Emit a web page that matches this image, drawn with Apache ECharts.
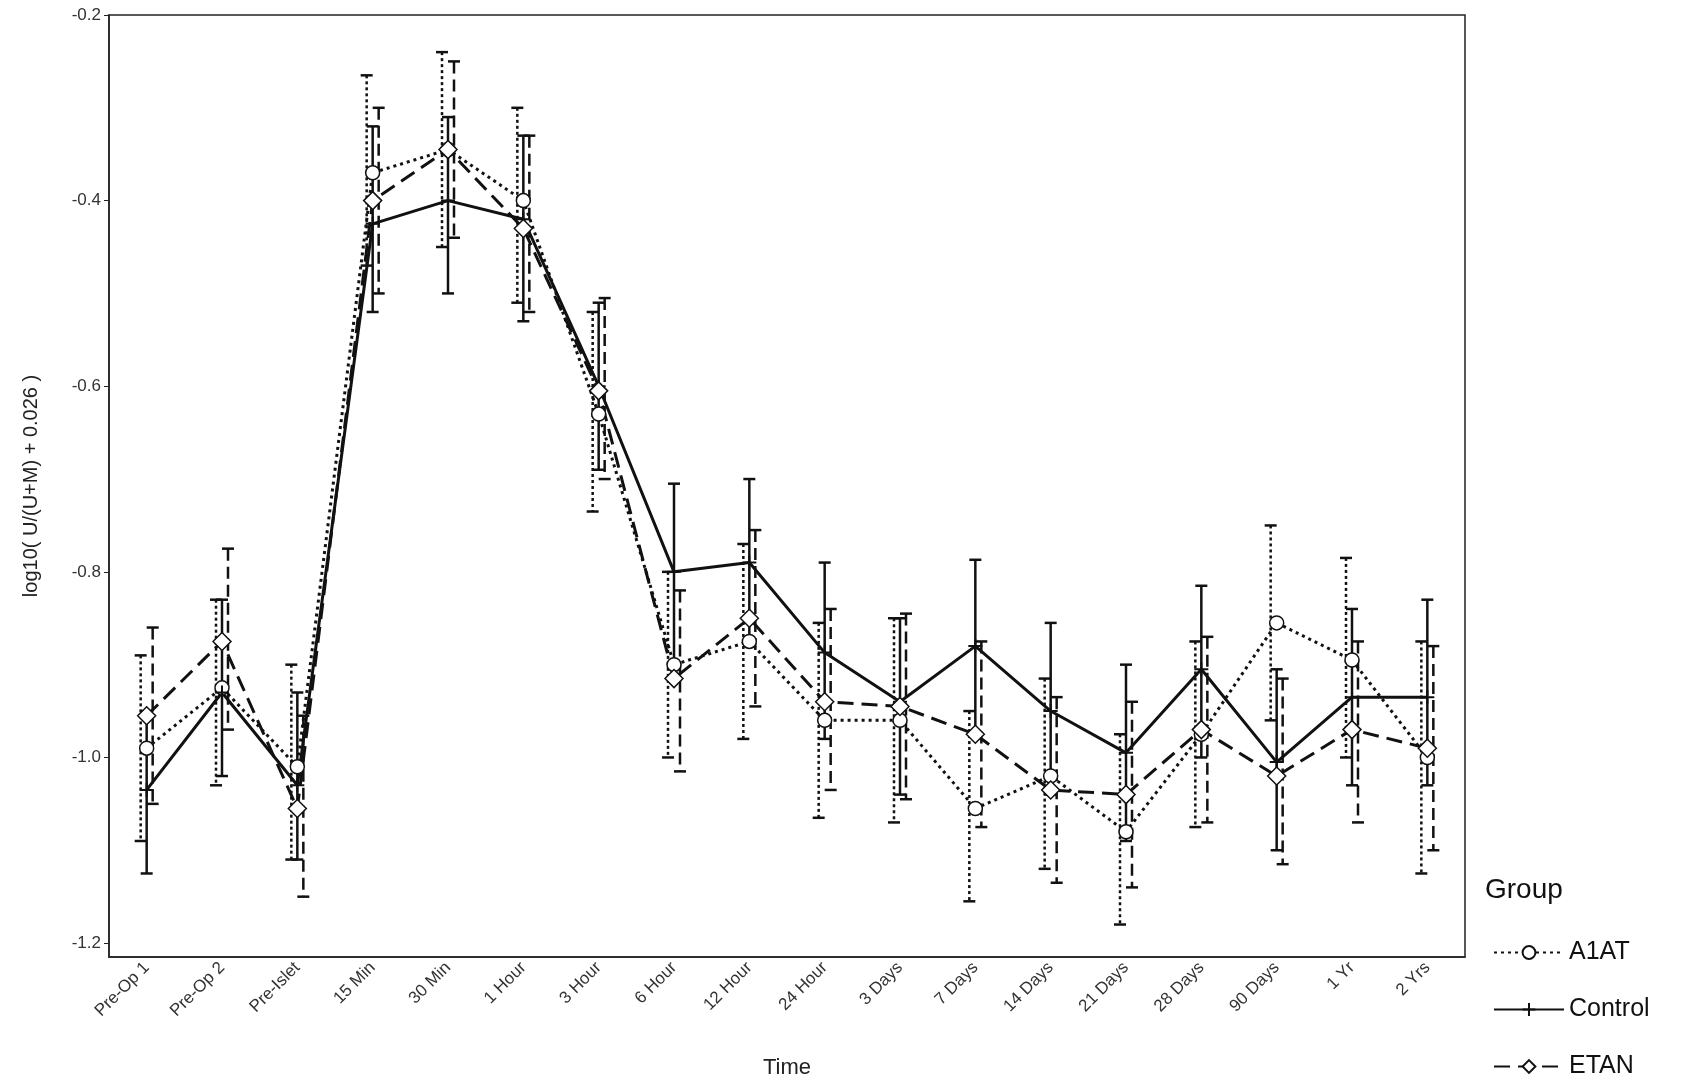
<!DOCTYPE html>
<html><head><meta charset="utf-8">
<script src="https://cdn.jsdelivr.net/npm/echarts@6/dist/echarts.min.js"></script>
<style>html,body{margin:0;background:#fff}#chartmain{width:1705px;height:1084px}</style>
</head><body><div id="chartmain"></div>
<script>
var times = ['Pre-Op 1','Pre-Op 2','Pre-Islet','15 Min','30 Min','1 Hour','3 Hour','6 Hour','12 Hour','24 Hour','3 Days','7 Days','14 Days','21 Days','28 Days','90 Days','1 Yr','2 Yrs'];
var yTicks = [-1.2, -1.0, -0.8, -0.6, -0.4, -0.2];

var a1at_mean = [-0.99,-0.925,-1.01,-0.37,-0.345,-0.40,-0.63,-0.90,-0.875,-0.96,-0.96,-1.055,-1.02,-1.08,-0.975,-0.855,-0.895,-1.0];
var a1at_hi   = [-0.89,-0.83,-0.90,-0.265,-0.24,-0.30,-0.52,-0.80,-0.77,-0.855,-0.85,-0.95,-0.915,-0.975,-0.875,-0.75,-0.785,-0.875];
var a1at_lo   = [-1.09,-1.03,-1.11,-0.47,-0.45,-0.51,-0.735,-1.00,-0.98,-1.065,-1.07,-1.155,-1.12,-1.18,-1.075,-0.96,-1.0,-1.125];

var ctrl_mean = [-1.035,-0.93,-1.03,-0.425,-0.40,-0.42,-0.60,-0.80,-0.79,-0.887,-0.94,-0.88,-0.95,-0.995,-0.905,-1.005,-0.935,-0.935];
var ctrl_hi   = [-0.95,-0.83,-0.93,-0.32,-0.31,-0.33,-0.51,-0.705,-0.70,-0.79,-0.85,-0.787,-0.855,-0.90,-0.815,-0.905,-0.84,-0.83];
var ctrl_lo   = [-1.125,-1.02,-1.11,-0.52,-0.50,-0.53,-0.69,-0.90,-0.88,-0.98,-1.04,-0.975,-1.04,-1.09,-1.00,-1.10,-1.03,-1.03];

var etan_mean = [-0.955,-0.875,-1.055,-0.40,-0.345,-0.43,-0.605,-0.915,-0.85,-0.94,-0.945,-0.975,-1.035,-1.04,-0.97,-1.02,-0.97,-0.99];
var etan_hi   = [-0.86,-0.775,-0.955,-0.30,-0.25,-0.33,-0.505,-0.82,-0.755,-0.84,-0.845,-0.875,-0.935,-0.94,-0.87,-0.915,-0.875,-0.88];
var etan_lo   = [-1.05,-0.97,-1.15,-0.50,-0.44,-0.52,-0.70,-1.015,-0.945,-1.035,-1.045,-1.075,-1.135,-1.14,-1.07,-1.115,-1.07,-1.10];

function barData(hi, lo) {
    return times.map(function (t, i) { return [i, hi[i], lo[i]]; });
}
// error bars drawn as custom series, offset a little per group
function errorBars(name, hi, lo, dx, dash) {
    return {
        type: 'custom', name: name, z: 1,
        data: barData(hi, lo),
        encode: {x: 0, y: [1, 2]},
        renderItem: function (params, api) {
            var top = api.coord([api.value(0), api.value(1)]);
            var bot = api.coord([api.value(0), api.value(2)]);
            var x = top[0] + dx, w = 6;
            var st = {stroke: '#111', lineWidth: 2.5, lineDash: dash};
            return {type: 'group', children: [
                {type: 'line', shape: {x1: x, y1: top[1], x2: x, y2: bot[1]}, style: st},
                {type: 'line', shape: {x1: x - w, y1: top[1], x2: x + w, y2: top[1]}, style: {stroke: '#111', lineWidth: 2.5}},
                {type: 'line', shape: {x1: x - w, y1: bot[1], x2: x + w, y2: bot[1]}, style: {stroke: '#111', lineWidth: 2.5}}
            ]};
        }
    };
}
var plus = 'path://M5,0 L5,10 M0,5 L10,5';

var option = {
    animation: false,
    color: ['#111'],
    textStyle: {fontFamily: 'Liberation Sans'},
    grid: {left: 109, top: 15, right: 240, bottom: 127},
    xAxis: {
        type: 'category', data: times, boundaryGap: true,
        name: 'Time', nameLocation: 'middle', nameGap: 100,
        nameTextStyle: {fontSize: 22, color: '#222'},
        axisLine: {lineStyle: {color: '#222', width: 1.5}},
        axisTick: {alignWithLabel: true, lineStyle: {color: '#222'}},
        axisLabel: {rotate: 45, fontSize: 17, color: '#333', interval: 0}
    },
    yAxis: {
        type: 'value', min: -1.215, max: -0.2,
        name: 'log10( U/(U+M) + 0.026 )', nameLocation: 'middle', nameGap: 68,
        nameTextStyle: {fontSize: 20, color: '#222'},
        splitLine: {show: false},
        axisLine: {show: true, lineStyle: {color: '#222', width: 1.5}},
        axisTick: {show: true, customValues: yTicks, lineStyle: {color: '#222'}},
        axisLabel: {customValues: yTicks, fontSize: 17, color: '#333',
            formatter: function (v) { return v.toFixed(1); }}
    },
    legend: {
        orient: 'vertical', left: 1488, top: 935, itemGap: 32, itemWidth: 70, itemHeight: 16,
        data: ['A1AT', 'Control', 'ETAN'],
        textStyle: {fontSize: 25, color: '#111'}
    },
    graphic: [
        {type: 'rect', shape: {x: 109, y: 15, width: 1356, height: 942}, style: {fill: 'none', stroke: '#222', lineWidth: 1.5}, silent: true},
        {type: 'text', left: 1485, top: 876, style: {text: 'Group', fontSize: 28, fill: '#111', fontFamily: 'Liberation Sans'}}
    ],
    series: [
        errorBars('A1AT err', a1at_hi, a1at_lo, -6, [3, 3]),
        errorBars('Control err', ctrl_hi, ctrl_lo, 0, null),
        errorBars('ETAN err', etan_hi, etan_lo, 6, [12, 6]),
        {type: 'line', name: 'A1AT', data: a1at_mean, symbol: 'circle', symbolSize: 14,
            itemStyle: {color: '#fff', borderColor: '#111', borderWidth: 1.5},
            lineStyle: {color: '#111', width: 3, type: [3, 4]}, z: 3},
        {type: 'line', name: 'Control', data: ctrl_mean, symbol: plus, symbolSize: 14,
            itemStyle: {color: '#111', borderColor: '#111', borderWidth: 2},
            lineStyle: {color: '#111', width: 3}, z: 3},
        {type: 'line', name: 'ETAN', data: etan_mean, symbol: 'diamond', symbolSize: 18,
            itemStyle: {color: '#fff', borderColor: '#111', borderWidth: 1.5},
            lineStyle: {color: '#111', width: 3, type: [16, 8]}, z: 3}
    ]
};
var myChart = echarts.init(document.getElementById('chartmain'));
myChart.setOption(option);
</script>
</body></html>
